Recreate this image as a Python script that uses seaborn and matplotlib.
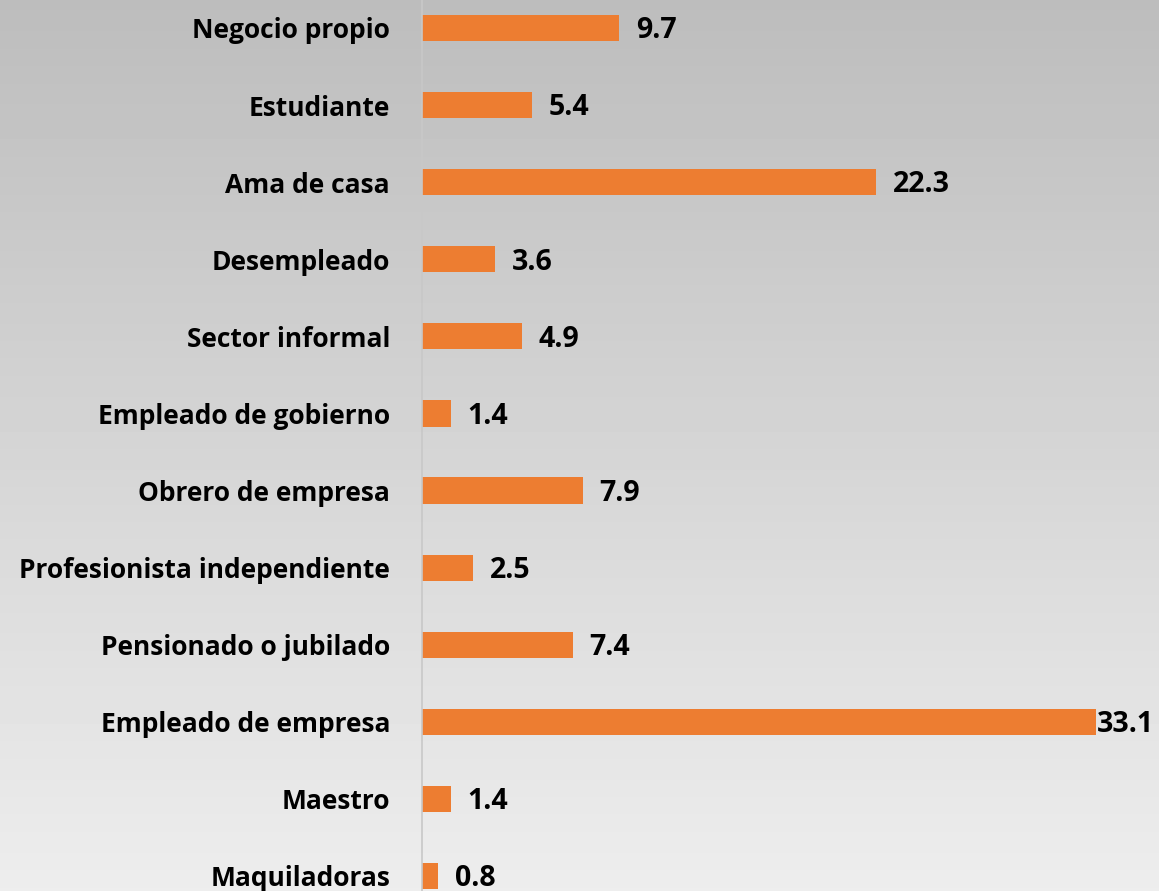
import numpy as np
import pandas as pd
import matplotlib
matplotlib.use('Agg')
import matplotlib.pyplot as plt
import seaborn as sns

# datos (porcentaje por ocupación)
ocupaciones = ['Negocio propio', 'Estudiante', 'Ama de casa', 'Desempleado',
               'Sector informal', 'Empleado de gobierno', 'Obrero de empresa',
               'Profesionista independiente', 'Pensionado o jubilado',
               'Empleado de empresa', 'Maestro', 'Maquiladoras']
porcentajes = [9.7, 5.4, 22.3, 3.6, 4.9, 1.4, 7.9, 2.5, 7.4, 33.1, 1.4, 0.8]

df = pd.DataFrame({'ocupacion': ocupaciones, 'pct': porcentajes})

sns.set_style('white')
plt.rcParams['font.family'] = ['Open Sans', 'DejaVu Sans']

fig = plt.figure(figsize=(11.59, 8.91), dpi=100)

# fondo gris claro (aprox. del dibujo a lápiz)
bg = fig.add_axes([0, 0, 1, 1], zorder=0)
grad = np.linspace(0.74, 0.93, 256).reshape(-1, 1)
bg.imshow(grad, cmap='gray', vmin=0, vmax=1, aspect='auto',
          extent=[0, 1, 0, 1], origin='upper')
bg.axis('off')

ax = fig.add_axes([422 / 1159, 0, 1 - 422 / 1159, 1], zorder=1)
ax.patch.set_alpha(0)

sns.barplot(data=df, x='pct', y='ocupacion', orient='h', color='#ED7D31',
            width=0.34, saturation=1, linewidth=0, ax=ax)

ax.set_xlim(0, 36.2)
ax.set_ylim(11.195, -0.363)
ax.set_xlabel('')
ax.set_ylabel('')
ax.set_xticks([])
for s in ['top', 'right', 'bottom']:
    ax.spines[s].set_visible(False)
ax.spines['left'].set_color('#c8c8c8')
ax.spines['left'].set_linewidth(1.2)
ax.tick_params(axis='y', length=0, pad=23)
for lbl in ax.get_yticklabels():
    lbl.set_fontsize(19)
    lbl.set_fontweight('bold')
    lbl.set_color('black')

vmax = max(porcentajes)
for i, v in enumerate(porcentajes):
    pad = 1 if v == vmax else 12
    ax.annotate(f'{v:.1f}', xy=(v, i), xytext=(pad, -2), textcoords='offset points',
                ha='left', va='center', fontsize=20.5, fontweight='bold', color='black')

fig.savefig('out.png', dpi=100)
